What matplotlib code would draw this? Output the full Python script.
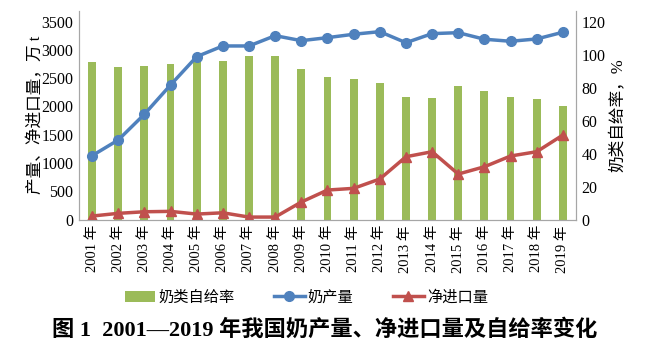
import numpy as np
import matplotlib
matplotlib.use("Agg")
import matplotlib.pyplot as plt
from matplotlib.ticker import FixedLocator

plt.rcParams['font.family'] = ['Liberation Serif', 'Noto Sans CJK SC']

years = [f"{y} 年" for y in range(2001, 2020)]

# 奶产量, 万 t
production = [1129, 1407, 1862, 2380, 2881, 3070, 3070, 3252, 3164, 3217,
              3277, 3323, 3128, 3288, 3305, 3189, 3153, 3194, 3313]
# 净进口量, 万 t
net_import = [62, 110, 138, 145, 97, 120, 44, 44, 310, 522,
              552, 717, 1111, 1200, 805, 934, 1124, 1200, 1495]
# 奶类自给率, %
self_rate = [95.4, 92.5, 93.1, 94.3, 96.5, 96.2, 99.2, 99.2, 91.3, 86.4,
             85.2, 82.8, 74.3, 73.7, 81.0, 78.0, 74.3, 73.1, 68.9]

GREEN = "#9BBB59"
BLUE = "#4F81BD"
RED = "#C0504D"
GRAY = "#A6A6A6"

fig = plt.figure(figsize=(6.5, 3.53), dpi=100)
ax = fig.add_axes([0.1215, 0.378, 0.7646, 0.591])
ax2 = ax.twinx()

x = np.arange(len(years))

b = ax2.bar(x, self_rate, width=0.3, color=GREEN, zorder=1, label="奶类自给率")
ax2.set_ylim(0, 120 * (219.5 - 11) / (219.5 - 21.7))
ax2.yaxis.set_major_locator(FixedLocator(range(0, 121, 20)))

ax.set_zorder(ax2.get_zorder() + 1)
ax.patch.set_visible(False)
l1, = ax.plot(x, production, color=BLUE, lw=2.5, marker="o", ms=7, label="奶产量")
l2, = ax.plot(x, net_import, color=RED, lw=2.5, marker="^", ms=7, label="净进口量")
ax.set_ylim(0, 3500 * (219.5 - 11) / (219.5 - 21.7))
ax.yaxis.set_major_locator(FixedLocator(range(0, 3501, 500)))
ax.set_xlim(-0.5, len(years) - 0.5)
ax.set_xticks(x)
ax.set_xticklabels(years, rotation=90, fontsize=10.5)

for a in (ax, ax2):
    for s in a.spines.values():
        s.set_color(GRAY)
    a.spines['top'].set_visible(False)
    a.tick_params(axis='y', length=0, labelsize=11.5, pad=4)
ax.tick_params(axis='x', length=0, pad=4)

ax.set_ylabel("产量、净进口量，万 t", fontsize=12)
ax.yaxis.set_label_coords(-0.07, 0.5)
ax2.set_ylabel("奶类自给率，%", fontsize=12, labelpad=4)

fig.legend([b, l1, l2], ["奶类自给率", "奶产量", "净进口量"], loc="center",
           bbox_to_anchor=(0.471, 0.158), ncol=3, frameon=False, fontsize=11,
           handlelength=2.0, columnspacing=2.6, handletextpad=0.2)

fig.text(0.5, 0.065, "图 1  2001—2019 年我国奶产量、净进口量及自给率变化",
         ha="center", va="center", fontsize=16, fontweight="bold")

fig.savefig("out.png", dpi=100)
